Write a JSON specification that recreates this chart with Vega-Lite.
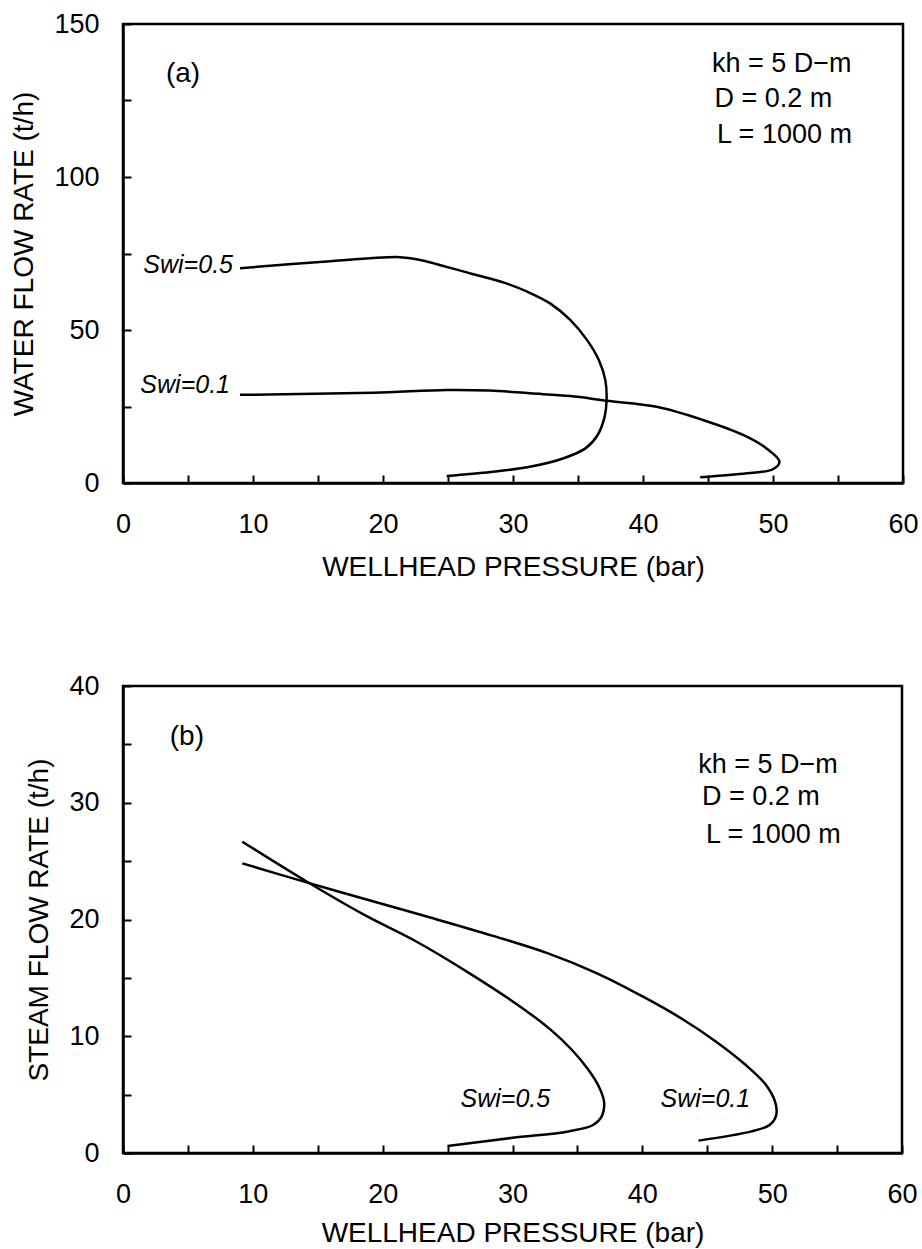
{
  "$schema": "https://vega.github.io/schema/vega-lite/v6.json",
  "background": "white",
  "padding": {"left": 9, "top": 8, "right": 12, "bottom": 2},
  "config": {
    "font": "Liberation Sans",
    "view": {"stroke": "black", "strokeWidth": 2.5},
    "axis": {
      "domainColor": "black", "domainWidth": 2.5,
      "tickColor": "black", "tickWidth": 2, "tickSize": -8,
      "labelFont": "Liberation Sans", "labelFontSize": 27, "labelColor": "black",
      "titleFont": "Liberation Sans", "titleFontSize": 28, "titleFontWeight": "normal", "titleColor": "black",
      "grid": false, "labelFlush": false, "labelOverlap": false, "labelBound": false
    },
    "axisX": {"labelPadding": 36, "titlePadding": 16},
    "axisY": {"labelPadding": 32, "titlePadding": 15},
    "concat": {"spacing": 87}
  },
  "datasets": {
    "curvesA": [
      {"swi": "0.5", "i": 1, "p": 9.0, "q": 70.2},
      {"swi": "0.5", "i": 2, "p": 15.4, "q": 72.3},
      {"swi": "0.5", "i": 3, "p": 21.3, "q": 73.8},
      {"swi": "0.5", "i": 4, "p": 22.85, "q": 72.9},
      {"swi": "0.5", "i": 5, "p": 26.95, "q": 68.2},
      {"swi": "0.5", "i": 6, "p": 29.3, "q": 65.5},
      {"swi": "0.5", "i": 7, "p": 31.05, "q": 62.6},
      {"swi": "0.5", "i": 8, "p": 32.85, "q": 58.7},
      {"swi": "0.5", "i": 9, "p": 34.4, "q": 53.3},
      {"swi": "0.5", "i": 10, "p": 35.7, "q": 46.7},
      {"swi": "0.5", "i": 11, "p": 36.6, "q": 40.2},
      {"swi": "0.5", "i": 12, "p": 37.1, "q": 33.7},
      {"swi": "0.5", "i": 13, "p": 37.2, "q": 27.1},
      {"swi": "0.5", "i": 14, "p": 37.05, "q": 21.7},
      {"swi": "0.5", "i": 15, "p": 36.5, "q": 15.6},
      {"swi": "0.5", "i": 16, "p": 35.6, "q": 11.4},
      {"swi": "0.5", "i": 17, "p": 33.9, "q": 8.1},
      {"swi": "0.5", "i": 18, "p": 31.3, "q": 5.3},
      {"swi": "0.5", "i": 19, "p": 28.3, "q": 3.6},
      {"swi": "0.5", "i": 20, "p": 24.9, "q": 2.3},
      {"swi": "0.1", "i": 1, "p": 9.0, "q": 28.8},
      {"swi": "0.1", "i": 2, "p": 19.25, "q": 29.5},
      {"swi": "0.1", "i": 3, "p": 24.9, "q": 30.4},
      {"swi": "0.1", "i": 4, "p": 28.2, "q": 30.2},
      {"swi": "0.1", "i": 5, "p": 31.3, "q": 29.3},
      {"swi": "0.1", "i": 6, "p": 34.4, "q": 28.4},
      {"swi": "0.1", "i": 7, "p": 37.2, "q": 26.9},
      {"swi": "0.1", "i": 8, "p": 41.05, "q": 24.9},
      {"swi": "0.1", "i": 9, "p": 44.6, "q": 20.6},
      {"swi": "0.1", "i": 10, "p": 47.7, "q": 15.7},
      {"swi": "0.1", "i": 11, "p": 49.5, "q": 11.3},
      {"swi": "0.1", "i": 12, "p": 50.5, "q": 7.0},
      {"swi": "0.1", "i": 13, "p": 50.0, "q": 4.5},
      {"swi": "0.1", "i": 14, "p": 48.0, "q": 3.2},
      {"swi": "0.1", "i": 15, "p": 44.4, "q": 1.9}
    ],
    "curvesB": [
      {"swi": "0.5", "i": 1, "p": 9.19, "q": 26.66},
      {"swi": "0.5", "i": 2, "p": 13.95, "q": 23.38},
      {"swi": "0.5", "i": 3, "p": 18.59, "q": 20.39},
      {"swi": "0.5", "i": 4, "p": 22.45, "q": 18.2},
      {"swi": "0.5", "i": 5, "p": 26.82, "q": 15.3},
      {"swi": "0.5", "i": 6, "p": 30.9, "q": 12.3},
      {"swi": "0.5", "i": 7, "p": 33.0, "q": 10.5},
      {"swi": "0.5", "i": 8, "p": 34.6, "q": 8.8},
      {"swi": "0.5", "i": 9, "p": 35.8, "q": 7.2},
      {"swi": "0.5", "i": 10, "p": 36.6, "q": 5.8},
      {"swi": "0.5", "i": 11, "p": 37.05, "q": 4.4},
      {"swi": "0.5", "i": 12, "p": 36.9, "q": 3.2},
      {"swi": "0.5", "i": 13, "p": 36.2, "q": 2.4},
      {"swi": "0.5", "i": 14, "p": 34.3, "q": 1.85},
      {"swi": "0.5", "i": 15, "p": 30.0, "q": 1.3},
      {"swi": "0.5", "i": 16, "p": 25.0, "q": 0.6},
      {"swi": "0.1", "i": 1, "p": 9.19, "q": 24.81},
      {"swi": "0.1", "i": 2, "p": 13.95, "q": 23.24},
      {"swi": "0.1", "i": 3, "p": 19.1, "q": 21.6},
      {"swi": "0.1", "i": 4, "p": 23.73, "q": 20.15},
      {"swi": "0.1", "i": 5, "p": 28.5, "q": 18.6},
      {"swi": "0.1", "i": 6, "p": 32.74, "q": 17.1},
      {"swi": "0.1", "i": 7, "p": 36.6, "q": 15.35},
      {"swi": "0.1", "i": 8, "p": 39.95, "q": 13.45},
      {"swi": "0.1", "i": 9, "p": 43.04, "q": 11.5},
      {"swi": "0.1", "i": 10, "p": 45.6, "q": 9.6},
      {"swi": "0.1", "i": 11, "p": 47.9, "q": 7.6},
      {"swi": "0.1", "i": 12, "p": 49.47, "q": 5.9},
      {"swi": "0.1", "i": 13, "p": 50.25, "q": 4.3},
      {"swi": "0.1", "i": 14, "p": 50.3, "q": 3.2},
      {"swi": "0.1", "i": 15, "p": 49.8, "q": 2.4},
      {"swi": "0.1", "i": 16, "p": 48.4, "q": 1.85},
      {"swi": "0.1", "i": 17, "p": 44.32, "q": 1.06}
    ]
  },
  "vconcat": [
    {
      "width": 780,
      "height": 459,
      "encoding": {
        "x": {"field": "p", "type": "quantitative", "scale": {"domain": [0, 60], "nice": false},
          "axis": {"title": "WELLHEAD PRESSURE (bar)", "values": [0,5,10,15,20,25,30,35,40,45,50,55,60], "labelExpr": "datum.value % 10 === 0 ? datum.label : ''"}},
        "y": {"field": "q", "type": "quantitative", "scale": {"domain": [0, 150], "nice": false},
          "axis": {"title": "WATER FLOW RATE (t/h)", "values": [0,25,50,75,100,125,150], "labelExpr": "datum.value % 50 === 0 ? datum.label : ''"}}
      },
      "layer": [
        {
          "data": {"name": "curvesA"},
          "mark": {"type": "line", "color": "black", "strokeWidth": 2.5, "interpolate": "catmull-rom"},
          "encoding": {"detail": {"field": "swi"}, "order": {"field": "i", "type": "quantitative"}}
        },
        {
          "data": {"values": [
            {"p": 8.46, "q": 68.6, "t": "Swi=0.5"},
            {"p": 8.23, "q": 29.4, "t": "Swi=0.1"}
          ]},
          "mark": {"type": "text", "align": "right", "baseline": "alphabetic", "fontSize": 25, "fontStyle": "italic", "color": "black"},
          "encoding": {"text": {"field": "t"}}
        },
        {
          "data": {"values": [
            {"p": 3.3, "q": 131.0, "t": "(a)"}
          ]},
          "mark": {"type": "text", "align": "left", "baseline": "alphabetic", "fontSize": 28, "color": "black"},
          "encoding": {"text": {"field": "t"}}
        },
        {
          "data": {"values": [
            {"p": 45.3, "q": 134.3, "t": "kh = 5 D−m"},
            {"p": 45.5, "q": 122.9, "t": "D  = 0.2 m"},
            {"p": 45.7, "q": 111.1, "t": "L  = 1000 m"}
          ]},
          "mark": {"type": "text", "align": "left", "baseline": "alphabetic", "fontSize": 27, "color": "black"},
          "encoding": {"text": {"field": "t"}}
        }
      ]
    },
    {
      "width": 779,
      "height": 467,
      "encoding": {
        "x": {"field": "p", "type": "quantitative", "scale": {"domain": [0, 60], "nice": false},
          "axis": {"title": "WELLHEAD PRESSURE (bar)", "titlePadding": 12, "values": [0,5,10,15,20,25,30,35,40,45,50,55,60], "labelExpr": "datum.value % 10 === 0 ? datum.label : ''"}},
        "y": {"field": "q", "type": "quantitative", "scale": {"domain": [0, 40], "nice": false},
          "axis": {"title": "STEAM FLOW RATE (t/h)", "values": [0,5,10,15,20,25,30,35,40], "labelExpr": "datum.value % 10 === 0 ? datum.label : ''"}}
      },
      "layer": [
        {
          "data": {"name": "curvesB"},
          "mark": {"type": "line", "color": "black", "strokeWidth": 2.5, "interpolate": "catmull-rom"},
          "encoding": {"detail": {"field": "swi"}, "order": {"field": "i", "type": "quantitative"}}
        },
        {
          "data": {"values": [
            {"p": 26.0, "q": 3.94, "t": "Swi=0.5"},
            {"p": 41.4, "q": 3.94, "t": "Swi=0.1"}
          ]},
          "mark": {"type": "text", "align": "left", "baseline": "alphabetic", "fontSize": 25, "fontStyle": "italic", "color": "black"},
          "encoding": {"text": {"field": "t"}}
        },
        {
          "data": {"values": [
            {"p": 3.6, "q": 34.95, "t": "(b)"}
          ]},
          "mark": {"type": "text", "align": "left", "baseline": "alphabetic", "fontSize": 28, "color": "black"},
          "encoding": {"text": {"field": "t"}}
        },
        {
          "data": {"values": [
            {"p": 44.3, "q": 32.55, "t": "kh = 5 D−m"},
            {"p": 44.6, "q": 29.8, "t": "D  = 0.2 m"},
            {"p": 44.9, "q": 26.55, "t": "L  = 1000 m"}
          ]},
          "mark": {"type": "text", "align": "left", "baseline": "alphabetic", "fontSize": 27, "color": "black"},
          "encoding": {"text": {"field": "t"}}
        }
      ]
    }
  ]
}
